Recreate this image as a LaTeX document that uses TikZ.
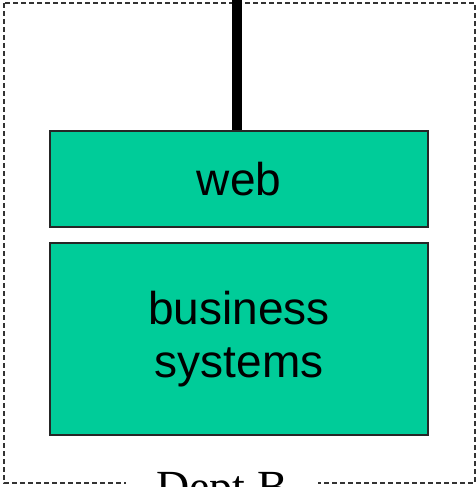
\documentclass[tikz,border=0pt]{standalone}
\usepackage{fontspec}
\setmainfont{Liberation Serif}
\newfontfamily\arialfont{Liberation Sans}
\usepackage{tikz}
\usetikzlibrary{positioning, calc}
\definecolor{tiergreen}{HTML}{00CC99}
\definecolor{framegray}{HTML}{333333}

\begin{document}
\begin{tikzpicture}[
    x=1pt, y=-1pt,
    tier/.style={draw=black!85, line width=1.5pt, fill=tiergreen, minimum width=378pt, align=center, font=\arialfont\fontsize{46}{53}\selectfont},
    frame/.style={draw=framegray, line width=1.2pt, dash pattern=on 5pt off 3pt},
    link/.style={line width=10pt}
]
\useasboundingbox (0,0) rectangle (476,487);
\clip (0,0) rectangle (476,487);

% Department frame
\draw[frame] (4,3) rectangle (475,483);

% Tiers
\node[tier, minimum height=96pt] (web) at (239,179) {web};
\node[tier, minimum height=192pt] (biz) at (239,339) {business\\systems};

% Label
\node[fill=white, inner xsep=30pt, inner ysep=4pt, anchor=base, font=\fontsize{46}{52}\selectfont] (dept) at (222,502) {Dept B};

% Incoming link
\coordinate (top) at (237,0);
\draw[link] (top) -- (top |- web.north);

\end{tikzpicture}
\end{document}
